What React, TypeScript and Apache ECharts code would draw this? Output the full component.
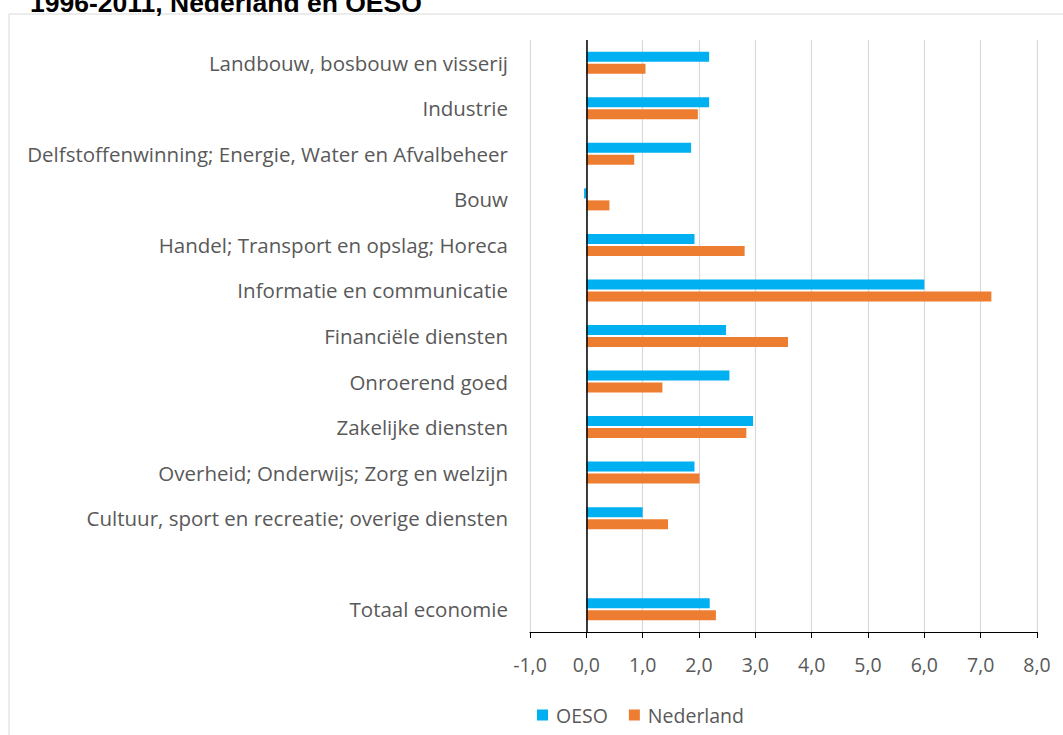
import React, { useEffect, useRef } from "react";
import * as echarts from "echarts";

const categories = [
  "Landbouw, bosbouw en visserij",
  "Industrie",
  "Delfstoffenwinning; Energie, Water en Afvalbeheer",
  "Bouw",
  "Handel; Transport en opslag; Horeca",
  "Informatie en communicatie",
  "Financiële diensten",
  "Onroerend goed",
  "Zakelijke diensten",
  "Overheid; Onderwijs; Zorg en welzijn",
  "Cultuur, sport en recreatie; overige diensten",
  "",
  "Totaal economie",
];

const oeso = [2.18, 2.18, 1.86, -0.04, 1.92, 6.0, 2.48, 2.54, 2.96, 1.92, 1.0, null, 2.19];
const nederland = [1.05, 1.98, 0.85, 0.41, 2.81, 7.19, 3.58, 1.35, 2.84, 2.01, 1.45, null, 2.3];

const xTicks = { min: -1, max: 8, interval: 1 };
const title = "1996-2011, Nederland en OESO";

const FONT = "'Open Sans', Lato, sans-serif";
const FS = 19.5;

export default function App() {
  const ref = useRef<HTMLDivElement>(null);
  useEffect(() => {
    if (!ref.current) return;
    const chart = echarts.init(ref.current, undefined, { renderer: "svg" });
    chart.setOption({
      animation: false,
      backgroundColor: "#ffffff",
      textStyle: { fontFamily: FONT },
      graphic: [
        {
          type: "rect",
          shape: { x: 9, y: 14, width: 1100, height: 800 },
          style: { fill: "none", stroke: "#D9D9D9", lineWidth: 1 },
          silent: true,
        },
        {
          type: "text",
          x: 30,
          y: 3,
          style: {
            text: title,
            font: "bold 26.5px 'Liberation Sans', Arial, sans-serif",
            fill: "#000000",
            verticalAlign: "middle",
            align: "left",
          },
        },
      ],
      legend: {
        left: 537,
        top: 705,
        padding: 0,
        icon: "rect",
        itemWidth: 11,
        itemHeight: 11,
        itemGap: 21,
        textStyle: { fontSize: FS, color: "#595959", fontFamily: FONT, padding: [0, 0, 0, 3] },
        data: ["OESO", "Nederland"],
      },
      grid: { left: 530, right: 26, top: 40, bottom: 103, containLabel: false },
      xAxis: {
        type: "value",
        min: xTicks.min,
        max: xTicks.max,
        interval: xTicks.interval,
        axisLine: { show: true, onZero: false, lineStyle: { color: "#000000", width: 1.2 } },
        axisTick: { show: true, length: 6, lineStyle: { color: "#000000" } },
        axisLabel: {
          fontSize: FS,
          color: "#595959",
          margin: 22,
          formatter: (v: number) => v.toFixed(1).replace(".", ","),
        },
        splitLine: { show: true, lineStyle: { color: "#D9D9D9", width: 1.2 } },
      },
      yAxis: {
        type: "category",
        inverse: true,
        data: categories,
        axisLine: { show: false },
        axisTick: { show: false },
        axisLabel: { fontSize: 20.5, color: "#595959", margin: 22 },
      },
      series: [
        {
          name: "OESO",
          type: "bar",
          data: oeso,
          barWidth: 10,
          barGap: "20%",
          itemStyle: { color: "#00B0F0" },
          markLine: {
            silent: true,
            symbol: "none",
            label: { show: false },
            lineStyle: { color: "#000000", width: 1.5, type: "solid" },
            data: [{ xAxis: 0 }],
          },
        },
        {
          name: "Nederland",
          type: "bar",
          data: nederland,
          barWidth: 10,
          barGap: "20%",
          itemStyle: { color: "#ED7D31" },
        },
      ],
    });
    return () => chart.dispose();
  }, []);
  return (
    <div
      ref={ref}
      style={{ position: "fixed", left: 0, top: 0, width: 1063, height: 735 }}
    />
  );
}
